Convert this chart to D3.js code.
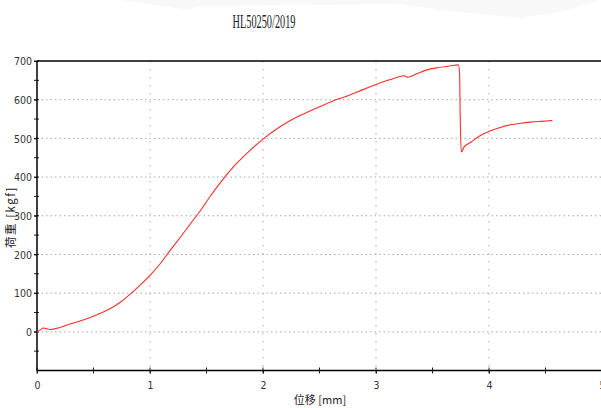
<!DOCTYPE html>
<html><head><meta charset="utf-8">
<script src="https://cdn.jsdelivr.net/npm/d3@7/dist/d3.min.js"></script>
<style>
html,body{margin:0;padding:0;background:#fff;}
svg{display:block;}
</style></head>
<body>
<svg id="chart" width="601" height="408"></svg>
<script>
const title = "HL50250/2019";
const xLabel = "位移 [mm]";
const yLabel = "荷重 [kgf]";
const xTicks = [0, 1, 2, 3, 4, 5];
const yTicks = [0, 100, 200, 300, 400, 500, 600, 700];
const xMinorTicks = [0.5, 1.5, 2.5, 3.5, 4.5];
const yMinorTicks = [-50, 50, 150, 250, 350, 450, 550, 650];
const xGrid = [1, 2, 3, 4];
const yGrid = [0, 100, 200, 300, 400, 500, 600];
const disp = [0, 0.03, 0.056, 0.115, 0.2, 0.29, 0.38, 0.47, 0.56, 0.65, 0.74, 0.82, 0.91, 1.0, 1.09, 1.18, 1.27, 1.36, 1.45, 1.53, 1.64, 1.75, 1.86, 2.0, 2.15, 2.30, 2.41, 2.51, 2.63, 2.72, 2.80, 2.92, 3.04, 3.15, 3.25, 3.28, 3.36, 3.45, 3.55, 3.65, 3.73, 3.74, 3.745, 3.755, 3.78, 3.84, 3.92, 4.01, 4.1, 4.19, 4.28, 4.37, 4.46, 4.56];
const load = [0, 5, 10, 6, 11, 20, 28, 37, 48, 60, 77, 96, 120, 146, 176, 211, 245, 280, 315, 349, 392, 430, 462, 498, 530, 555, 570, 583, 598, 607, 616, 630, 644, 654, 662, 658, 667, 677, 683, 687, 690, 665, 560, 465, 478, 490, 507, 519, 528, 535, 539, 542, 544, 546];

const svg = d3.select("#chart");
const x = d3.scaleLinear().domain([0, 5]).range([37, 602]);
const y = d3.scaleLinear().domain([-100, 700]).range([370.5, 61]);

// faint background swoosh
svg.append("path")
  .attr("d", "M120,0 L600,0 L560,12 L520,18 L440,10 L400,4 L200,6 L190,10 Z")
  .attr("fill", "#f8f8f8");

// grid
svg.append("g").selectAll("line").data(yGrid).join("line")
  .attr("x1", x(0)).attr("x2", 601).attr("y1", d => y(d)).attr("y2", d => y(d))
  .attr("stroke", "#a8a8a8").attr("stroke-width", 1).attr("stroke-dasharray", "1.5,3");
svg.append("g").selectAll("line").data(xGrid).join("line")
  .attr("x1", d => x(d)).attr("x2", d => x(d)).attr("y1", y(700)).attr("y2", y(-100))
  .attr("stroke", "#a8a8a8").attr("stroke-width", 1).attr("stroke-dasharray", "1.5,6.5");

// axes
const xAxisG = svg.append("g").attr("transform", `translate(0,${y(-100)})`)
  .call(d3.axisBottom(x).tickValues(xTicks).tickFormat(d3.format("d")).tickSize(3).tickPadding(8));
const yAxisG = svg.append("g").attr("transform", `translate(${x(0)},0)`)
  .call(d3.axisLeft(y).tickValues(yTicks).tickFormat(d3.format("d")).tickSize(3).tickPadding(2));
[xAxisG, yAxisG].forEach(g => {
  g.select(".domain").remove();
  g.selectAll("text").attr("font-family", "'Liberation Sans Narrow','DejaVu Sans Condensed',sans-serif")
    .attr("font-size", 10.5).attr("fill", "#333");
  g.selectAll("line").attr("stroke", "#222");
});
yAxisG.selectAll("text").attr("dy", "0.35em");
// ticks crossing axis
svg.append("g").selectAll("line").data(xMinorTicks.concat(xTicks)).join("line")
  .attr("x1", d => x(d)).attr("x2", d => x(d)).attr("y1", y(-100) - 3).attr("y2", y(-100) + 3)
  .attr("stroke", "#222");
svg.append("g").selectAll("line").data(yMinorTicks.concat(yTicks)).join("line")
  .attr("x1", x(0) - 3).attr("x2", x(0) + 2).attr("y1", d => y(d)).attr("y2", d => y(d))
  .attr("stroke", "#222");

// frame lines
svg.append("line").attr("x1", x(0)).attr("x2", 601).attr("y1", y(700)).attr("y2", y(700)).attr("stroke", "#000").attr("stroke-width", 1.5);
svg.append("line").attr("x1", x(0)).attr("x2", 601).attr("y1", y(-100)).attr("y2", y(-100)).attr("stroke", "#000").attr("stroke-width", 1.5);
svg.append("line").attr("x1", x(0)).attr("x2", x(0)).attr("y1", y(700)).attr("y2", y(-100)).attr("stroke", "#000").attr("stroke-width", 1.5);

// data line
const pts = disp.map((d, i) => [d, load[i]]);
svg.append("path").datum(pts)
  .attr("d", d3.line().x(d => x(d[0])).y(d => y(d[1])).curve(d3.curveMonotoneX))
  .attr("fill", "none").attr("stroke", "#ff2a2a").attr("stroke-width", 1.1);

// title
svg.append("text").attr("x", 264).attr("y", 28).attr("text-anchor", "middle")
  .attr("font-family", "'Liberation Serif','DejaVu Serif',serif").attr("font-size", 18)
  .attr("textLength", 63).attr("lengthAdjust", "spacingAndGlyphs").attr("fill", "#222")
  .text(title);

// axis labels
svg.append("text").attr("x", 320).attr("y", 404).attr("text-anchor", "middle")
  .attr("font-family", "'Noto Sans CJK SC','Noto Sans CJK JP',sans-serif").attr("font-size", 11)
  .attr("fill", "#222").text(xLabel);
svg.append("text").attr("transform", "translate(15,217) rotate(-90)").attr("text-anchor", "middle")
  .attr("font-family", "'Noto Sans CJK SC','Noto Sans CJK JP',sans-serif").attr("font-size", 11.5)
  .attr("letter-spacing", 1.5).attr("fill", "#222").text(yLabel);
</script>
</body></html>
